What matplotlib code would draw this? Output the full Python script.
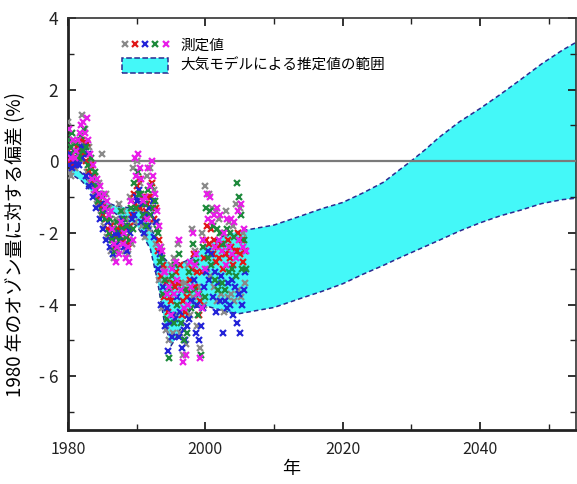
import matplotlib as mpl
import matplotlib.pyplot as plt
from matplotlib.lines import Line2D
from matplotlib.patches import Patch
from matplotlib.legend_handler import HandlerTuple
from matplotlib.ticker import MultipleLocator
import numpy as np

plt.rcParams['font.family'] = ['Noto Sans CJK JP', 'DejaVu Sans']

# model range (band)
band_years = [1980, 1982, 1984, 1985, 1987, 1989, 1990, 1991, 1992, 1993, 1994,
              1995, 1996, 1997, 1998, 2000, 2003, 2005, 2010, 2014, 2017, 2020,
              2023, 2026, 2028, 2030, 2032, 2034, 2037, 2040, 2043, 2046, 2049,
              2052, 2054]
band_upper = [0.0, -0.33, -0.83, -1.1, -1.25, -1.3, -1.33, -1.45, -1.85, -2.2, -2.7,
              -2.9, -2.85, -2.8, -2.7, -2.35, -2.05, -1.95, -1.78, -1.52, -1.32, -1.15,
              -0.88, -0.58, -0.28, 0.01, 0.32, 0.66, 1.1, 1.47, 1.87, 2.29, 2.72,
              3.1, 3.32]
band_lower = [-0.3, -0.55, -0.97, -1.2, -1.47, -1.67, -1.8, -2.1, -2.45, -3.3, -4.45,
              -5.15, -4.85, -4.4, -4.1, -4.03, -4.2, -4.25, -4.08, -3.82, -3.63, -3.42,
              -3.15, -2.9, -2.72, -2.55, -2.38, -2.21, -1.95, -1.72, -1.52, -1.36, -1.18,
              -1.07, -1.03]

# measurements, five instruments, quarterly from 1980
meas_grey = [1.1, -0.3, -0.4, 0.5, -0.2, 0.3, 0.0, 0.6, 1.3, 0.5, 0.9, -0.3, 0.4, -0.6,
             -0.2, -0.9, -0.4, -1.2, -0.6, -1.5, 0.2, -1.8, -0.9, -2.1, -1.3, -2.5,
             -1.7, -2.7, -1.6, -2.5, -1.2, -2.2, -1.4, -2.5, -1.6, -2.6, -1.0, -2.3,
             -0.2, -1.7, 0.0, -1.3, -0.6, -1.8, -1.0, -2.1, -0.4, -1.9, -0.2, -1.7,
             -0.8, -2.3, -1.7, -3.3, -2.4, -4.1, -3.0, -4.7, -3.3, -5.0, -2.9, -4.8,
             -2.7, -4.3, -2.3, -4.8, -3.4, -5.4, -3.4, -5.1, -2.9, -4.3, -1.9, -3.8,
             -2.5, -4.6, -3.5, -5.2, -2.0, -4.0, -0.7, -3.0, -0.9, -3.2, -1.3, -3.5,
             -1.4, -3.9, -1.6, -3.7, -2.0, -4.2, -1.4, -3.8, -1.7, -3.7, -1.8, -3.9,
             -1.2, -3.6, -1.3, -3.8, -2.0, -3.4]
meas_red = [0.3, 0.0, 0.2, -0.1, 0.1, 0.4, 0.3, 0.2, 0.6, 0.2, 0.0, 0.5, -0.3, -0.1,
            -0.6, -0.4, -0.8, -1.0, -1.1, -1.3, -1.5, -1.2, -1.6, -1.9, -2.0, -1.8,
            -2.2, -2.4, -2.1, -1.9, -1.8, -2.0, -2.2, -1.9, -2.1, -2.3, -1.8, -1.5,
            -0.9, -1.2, -0.7, -0.5, -1.3, -1.0, -1.6, -1.4, -1.2, -1.0, -1.0, -0.6,
            -1.6, -1.3, -2.5, -2.2, -3.2, -2.9, -3.8, -3.4, -4.2, -3.8, -3.9, -3.4,
            -3.5, -3.1, -3.4, -2.9, -4.3, -3.9, -4.2, -3.8, -3.6, -3.3, -3.0, -2.6,
            -3.5, -3.1, -4.3, -3.9, -3.1, -2.7, -2.2, -1.8, -2.3, -1.9, -2.6, -2.2,
            -2.8, -2.4, -2.7, -2.3, -3.0, -2.6, -2.6, -2.2, -2.7, -2.4, -2.9, -2.5,
            -2.5, -2.0, -2.6, -2.2, -2.8, -2.5]
meas_blue = [-0.1, 0.2, -0.2, 0.0, -0.1, 0.0, -0.1, 0.4, 0.1, 0.4, -0.4, 0.2, -0.7, -0.4,
             -1.0, -0.7, -1.3, -0.9, -1.6, -1.2, -1.9, -1.4, -2.2, -1.7, -2.4, -2.1,
             -2.6, -2.0, -2.3, -2.0, -2.1, -1.6, -2.4, -1.8, -2.5, -1.9, -2.0, -1.6,
             -1.5, -1.0, -1.1, -0.8, -1.7, -1.2, -2.0, -1.5, -1.8, -1.3, -1.5, -1.1,
             -2.1, -1.7, -3.0, -2.6, -4.0, -3.5, -4.6, -4.1, -5.3, -4.5, -4.9, -4.3,
             -4.4, -3.8, -4.9, -4.2, -5.2, -4.7, -5.0, -4.6, -4.4, -3.9, -3.9, -3.3,
             -4.8, -4.0, -5.0, -4.6, -4.1, -3.5, -3.1, -2.5, -3.3, -2.6, -3.8, -3.1,
             -4.2, -3.4, -3.9, -3.2, -4.8, -3.9, -4.1, -3.4, -4.0, -3.3, -4.3, -3.5,
             -4.5, -3.7, -4.8, -4.0, -3.6, -3.1]
meas_green = [0.6, 0.4, 0.8, 0.3, 0.5, 0.2, 0.1, 0.7, 0.3, 0.9, 0.4, -0.1, -0.2, 0.1,
              -0.5, -0.3, -0.7, -1.1, -0.9, -1.4, -1.0, -1.6, -1.3, -2.0, -1.6, -2.2,
              -1.9, -2.5, -1.7, -2.2, -1.4, -1.9, -1.6, -2.1, -1.8, -2.2, -1.3, -1.9,
              -0.6, -1.3, -0.3, -0.9, -0.9, -1.5, -1.2, -1.8, -0.8, -1.5, -0.7, -1.3,
              -1.1, -1.9, -2.0, -2.8, -2.7, -3.7, -3.3, -4.4, -5.5, -3.6, -3.2, -4.5,
              -2.9, -4.0, -2.6, -4.5, -3.6, -5.0, -3.6, -4.8, -3.1, -4.1, -2.3, -3.6,
              -2.8, -4.3, -3.7, -5.4, -2.4, -3.8, -1.3, -2.7, -1.4, -2.9, -1.8, -3.3,
              -1.9, -3.6, -2.0, -3.4, -2.3, -3.6, -1.9, -3.1, -2.0, -3.0, -2.1, -3.2,
              -0.6, -1.0, -1.5, -3.0, -2.2, -3.0]
meas_magenta = [0.9, 0.1, 0.6, 0.1, 0.3, 0.6, 0.8, 1.0, 1.1, 0.8, 1.2, 0.6, 0.2, -0.5,
                -0.1, -0.8, -0.5, -0.9, -0.7, -1.0, -0.9, -1.3, -1.1, -1.5, -1.4, -1.9,
                -2.3, -2.8, -2.4, -2.6, -1.7, -2.3, -2.0, -2.7, -2.4, -2.8, -1.1, -2.2,
                0.1, -0.4, 0.2, -0.2, -0.5, -1.1, -1.0, -1.6, -0.2, -0.7, 0.0, -0.4,
                -0.9, -1.4, -1.8, -2.4, -2.5, -3.1, -3.1, -3.7, -3.5, -4.3, -3.0, -3.7,
                -2.8, -3.3, -2.2, -3.6, -5.6, -4.1, -5.4, -4.0, -2.8, -3.5, -2.0, -2.9,
                -2.6, -3.7, -5.5, -4.1, -2.2, -3.0, -0.9, -1.6, -1.0, -1.7, -1.5, -2.4,
                -1.3, -2.2, -1.5, -2.5, -2.0, -2.9, -1.6, -2.4, -1.6, -2.6, -1.7, -2.7,
                -1.4, -2.2, -1.2, -2.4, -1.9, -2.5]

series = [('grey', '#8a8a8a', meas_grey, 0.0),
          ('red', '#e01818', meas_red, 0.05),
          ('blue', '#2424d8', meas_blue, 0.10),
          ('green', '#1e8a3c', meas_green, 0.15),
          ('magenta', '#e81ee8', meas_magenta, 0.20)]

xtick_vals = [1980, 2000, 2020, 2040]
ytick_vals = [4, 2, 0, -2, -4, -6]
ytick_labels = ['4', '2', '0', '- 2', '- 4', '- 6']

fig = plt.figure(figsize=(5.77, 4.84), dpi=100)
ax = fig.add_axes([68 / 577, 54 / 484, 508 / 577, 412 / 484])

ax.fill_between(band_years, band_lower, band_upper, facecolor='#44f8f8',
                edgecolor='none', zorder=1)
ax.plot(band_years, band_upper, color='#2a2a90', lw=1.1, ls=(0, (3, 2)), zorder=2)
ax.plot(band_years, band_lower, color='#2a2a90', lw=1.1, ls=(0, (3, 2)), zorder=2)

ax.axhline(0, color='#7a7a7a', lw=1.6, zorder=3)

handles = []
for name, col, vals, off in series:
    yrs = 1980 + off + 0.25 * np.arange(len(vals))
    ax.plot(yrs, vals, ls='none', marker='x', ms=4, mew=1.6, color=col, zorder=4)
    handles.append(Line2D([], [], ls='none', marker='x', ms=4, mew=1.6, color=col))

band_patch = Patch(facecolor='#44f8f8', edgecolor='#2a2a90', linestyle='--', lw=1.1)
ax.legend([tuple(handles), band_patch], ['測定値', '大気モデルによる推定値の範囲'],
          handler_map={tuple: HandlerTuple(ndivide=None, pad=0.3)},
          loc='upper left', bbox_to_anchor=(0.08, 0.985), frameon=False,
          fontsize=10.5, handlelength=3.2, handleheight=1.2, labelspacing=0.35,
          handletextpad=0.8)

ax.set_xlim(1980, 2054)
ax.set_ylim(-7.5, 4)
ax.set_xticks(xtick_vals)
ax.xaxis.set_minor_locator(MultipleLocator(10))
ax.set_yticks(ytick_vals)
ax.set_yticklabels(ytick_labels)
ax.yaxis.set_minor_locator(MultipleLocator(1))
ax.tick_params(which='both', direction='in', top=True, right=True, colors='#222222')
ax.tick_params(which='major', length=6, width=1.3)
ax.tick_params(which='minor', length=4, width=1.0)
ax.tick_params(axis='x', labelsize=11.5, pad=8)
ax.tick_params(axis='y', labelsize=12.5, pad=7)

for side in ['left', 'bottom']:
    ax.spines[side].set_linewidth(2.0)
    ax.spines[side].set_color('#222222')
for side in ['top', 'right']:
    ax.spines[side].set_linewidth(1.2)
    ax.spines[side].set_color('#333333')

ax.set_xlabel('年', fontsize=13)
ax.xaxis.set_label_coords(0.44, -0.074)
ax.set_ylabel('1980 年のオゾン量に対する偏差 (%)', fontsize=13.5)
ax.yaxis.set_label_coords(-0.082, 0.45)

fig.savefig('out.png', dpi=100, facecolor='white')
